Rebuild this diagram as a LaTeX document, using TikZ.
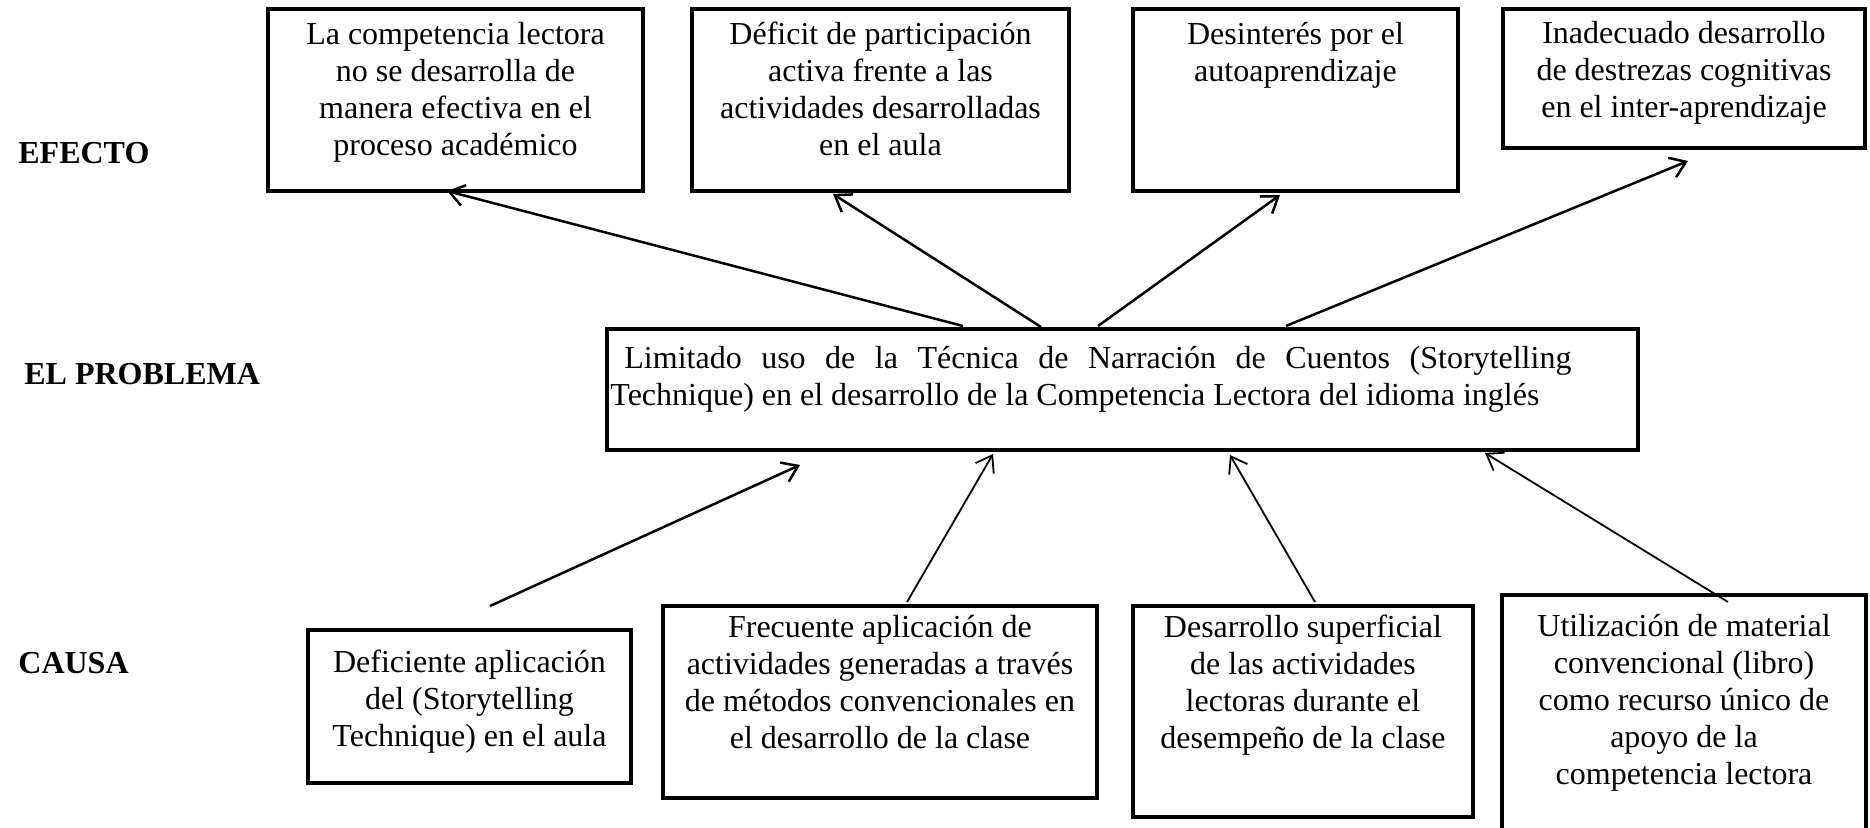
\documentclass[tikz,border=0pt]{standalone}
\usepackage{fontspec}
\setmainfont{Liberation Serif}
\usetikzlibrary{arrows.meta,calc}
\newcommand{\pxu}{0.5pt}
\begin{document}
\begin{tikzpicture}[x=0.5pt,y=-0.5pt,
  box/.style={draw,line width=1.6pt,inner sep=0pt,outer sep=0pt},
  txt/.style={anchor=north,align=center,inner sep=0pt,font=\fontsize{16pt}{18.5pt}\selectfont},
  lbl/.style={anchor=base west,inner sep=0pt,font=\fontsize{16pt}{18.5pt}\selectfont\bfseries},
  arr/.style={line width=1.25pt,-{Straight Barb[length=7.5pt,width=10.5pt]}},
  arrthin/.style={arr,line width=0.9pt}]
\useasboundingbox (0,0) rectangle (1870,828);
\clip (0,0) rectangle (1870,828);

% side labels
\node[lbl] (ef) at (18,164) {EFECTO};
\node[lbl] (pr) at (24,385) {EL PROBLEMA};
\node[lbl] (ca) at (18,673) {CAUSA};

% effect boxes
\node[box,minimum width=375*\pxu,minimum height=182*\pxu] (E1) at (455.5,100) {};
\node[box,minimum width=377*\pxu,minimum height=182*\pxu] (E2) at (880.5,100) {};
\node[box,minimum width=325*\pxu,minimum height=182*\pxu] (E3) at (1295.5,100) {};
\node[box,minimum width=362*\pxu,minimum height=139*\pxu] (E4) at (1684,78.5) {};

\node[txt] (E1t) at ($(E1.north)+(0,9)$) {\rule{0pt}{13pt}La competencia lectora\\no se desarrolla de\\manera efectiva en el\\proceso académico};
\node[txt] (E2t) at ($(E2.north)+(0,9)$) {\rule{0pt}{13pt}Déficit de participación\\activa frente a las\\actividades desarrolladas\\en el aula};
\node[txt] (E3t) at ($(E3.north)+(0,9)$) {\rule{0pt}{13pt}Desinterés por el\\autoaprendizaje};
\node[txt] (E4t) at ($(E4.north)+(0,8)$) {\rule{0pt}{13pt}Inadecuado desarrollo\\de destrezas cognitivas\\en el inter-aprendizaje};

% problem box
\node[box,minimum width=1031*\pxu,minimum height=121*\pxu] (P) at (1122.5,389.5) {};
\node[txt,anchor=north west,align=left] (Pt) at ($(P.north west)+(3,13)$) {\rule{0pt}{13pt}\hspace*{7pt}\makebox[473.5pt][s]{Limitado uso de la Técnica de Narración de Cuentos (Storytelling}\\Technique) en el desarrollo de la Competencia Lectora del idioma inglés};

% cause boxes
\node[box,minimum width=323*\pxu,minimum height=153*\pxu] (C1) at (469.5,706.5) {};
\node[box,minimum width=434*\pxu,minimum height=192*\pxu] (C2) at (880,702) {};
\node[box,minimum width=340*\pxu,minimum height=211*\pxu] (C3) at (1303,711.5) {};
\node[box,minimum width=364*\pxu,minimum height=275*\pxu] (C4) at (1684,732.5) {};

\node[txt] (C1t) at ($(C1.north)+(0,16)$) {\rule{0pt}{13pt}Deficiente aplicación\\del (Storytelling\\Technique) en el aula};
\node[txt] (C2t) at ($(C2.north)+(0,5)$) {\rule{0pt}{13pt}Frecuente aplicación de\\actividades generadas a través\\de métodos convencionales en\\el desarrollo de la clase};
\node[txt] (C3t) at ($(C3.north)+(0,5)$) {\rule{0pt}{13pt}Desarrollo superficial\\de las actividades\\lectoras durante el\\desempeño de la clase};
\node[txt] (C4t) at ($(C4.north)+(0,15)$) {\rule{0pt}{13pt}Utilización de material\\convencional (libro)\\como recurso único de\\apoyo de la\\competencia lectora};

% arrow end points
\coordinate (a1s) at ($(P.north west)+(356,-3)$);
\coordinate (a1e) at ($(E1.south west)+(179,0)$);
\coordinate (a2s) at ($(P.north west)+(434,-2)$);
\coordinate (a2e) at ($(E2.south west)+(141,3)$);
\coordinate (a3s) at ($(P.north west)+(491,-3)$);
\coordinate (a3e) at ($(E3.south west)+(147,4)$);
\coordinate (a4s) at ($(P.north west)+(679,-3)$);
\coordinate (a4e) at ($(E4.south west)+(185,13)$);
\coordinate (a5s) at ($(C1.north west)+(182,-24)$);
\coordinate (a5e) at ($(P.south west)+(193,15)$);
\coordinate (a6s) at ($(C2.north west)+(244,-4)$);
\coordinate (a6e) at ($(P.south west)+(386,4)$);
\coordinate (a7s) at ($(C3.north west)+(182,-4)$);
\coordinate (a7e) at ($(P.south west)+(623,5)$);
\coordinate (a8s) at ($(C4.north west)+(226,7)$);
\coordinate (a8e) at ($(P.south west)+(878,3)$);

% connectors
\draw[arr] (a1s) -- (a1e);
\draw[arr] (a2s) -- (a2e);
\draw[arr] (a3s) -- (a3e);
\draw[arr] (a4s) -- (a4e);
\draw[arr] (a5s) -- (a5e);
\draw[arrthin] (a6s) -- (a6e);
\draw[arrthin] (a7s) -- (a7e);
\draw[arrthin] (a8s) -- (a8e);
\end{tikzpicture}
\end{document}
